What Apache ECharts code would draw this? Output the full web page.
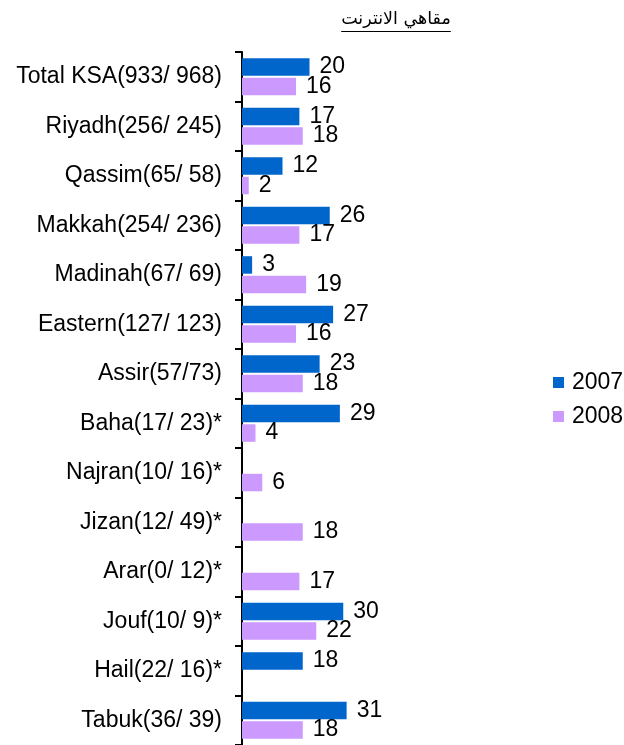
<!DOCTYPE html>
<html><head><meta charset="utf-8">
<script src="https://cdn.jsdelivr.net/npm/echarts@6/dist/echarts.min.js"></script>
<style>html,body{margin:0;padding:0;background:#fff}#c{width:624px;height:745px}</style>
</head><body><div id="c"></div>
<script>
const titleText = 'مقاهي الانترنت';
const categories = ['Total KSA(933/ 968)','Riyadh(256/ 245)','Qassim(65/ 58)','Makkah(254/ 236)','Madinah(67/ 69)','Eastern(127/ 123)','Assir(57/73)','Baha(17/ 23)*','Najran(10/ 16)*','Jizan(12/ 49)*','Arar(0/ 12)*','Jouf(10/ 9)*','Hail(22/ 16)*','Tabuk(36/ 39)'];
const seriesNames = ['2007','2008'];
const values2007 = [20,17,12,26,3,27,23,29,null,null,null,30,18,31];
const values2008 = [16,18,2,17,19,16,18,4,6,18,17,22,null,18];
const colors = ['#0066CC','#CC99FF'];

const FONT = 'Liberation Sans, Arial, sans-serif';
const TFONT = 'DejaVu Sans, sans-serif';
const TSIZE = 17.5;
const chart = echarts.init(document.getElementById('c'));

const cv = document.createElement('canvas').getContext('2d');
cv.font = TSIZE + 'px ' + TFONT;
const tw = cv.measureText(titleText).width;
const tcx = 396;

function mk(name, data, color){
  return {
    name, type:'bar', data, barWidth:17.5, barGap:'12%',
    itemStyle:{color},
    label:{show:true, position:'right', distance:10, color:'#000', fontSize:23, fontFamily:FONT,
      formatter:p=>p.value==null?'':p.value}
  };
}

chart.setOption({
  animation:false,
  title:{text:titleText, left:tcx - tw/2, top:10, padding:0, textStyle:{fontSize:TSIZE, fontWeight:'normal', color:'#000', fontFamily:TFONT}},
  graphic:[{type:'line', shape:{x1:tcx - tw/2, y1:31.5, x2:tcx + tw/2, y2:31.5}, style:{stroke:'#000', lineWidth:1.2}}],
  legend:{orient:'vertical', left:553, top:371, padding:0, itemWidth:11, itemHeight:11, itemGap:11,
    data:seriesNames, icon:'rect', textStyle:{fontSize:23, fontFamily:FONT, color:'#000', padding:[0,0,0,3]}},
  grid:{left:242, top:52, width:135, height:694.5, containLabel:false},
  xAxis:{type:'value', min:0, max:40, show:false},
  yAxis:{type:'category', inverse:true, data:categories,
    axisLine:{lineStyle:{color:'#000', width:2}},
    axisTick:{show:true, length:7, lineStyle:{color:'#000', width:2}},
    axisLabel:{fontSize:23, fontFamily:FONT, color:'#000', margin:20}},
  series:[mk(seriesNames[0], values2007, colors[0]), mk(seriesNames[1], values2008, colors[1])]
});
</script></body></html>
